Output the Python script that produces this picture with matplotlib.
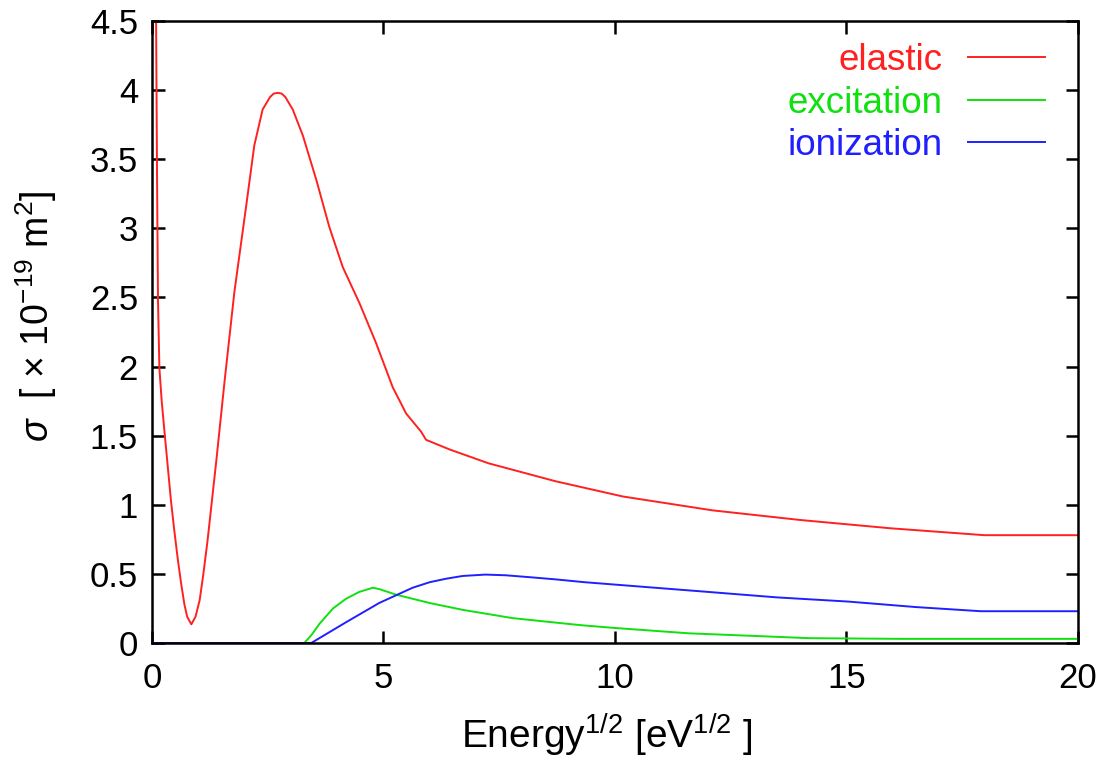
import numpy as np
import matplotlib
matplotlib.use("Agg")
import matplotlib.pyplot as plt

plt.rcParams['font.family'] = ['Liberation Sans', 'DejaVu Sans']
plt.rcParams['mathtext.fontset'] = 'custom'
plt.rcParams['mathtext.rm'] = 'Liberation Sans'
plt.rcParams['mathtext.it'] = 'Liberation Sans:italic'
plt.rcParams['mathtext.sf'] = 'Liberation Sans'

# cross sections vs sqrt(energy)
elastic_x = [0.08, 0.11, 0.13, 0.16, 0.21, 0.27, 0.34, 0.41, 0.48, 0.56, 0.63, 0.70,
             0.76, 0.85, 0.94, 1.03, 1.11, 1.20, 1.39, 1.57, 1.78, 2.05, 2.21, 2.39,
             2.55, 2.63, 2.72, 2.80, 2.88, 3.04, 3.26, 3.55, 3.83, 4.12, 4.48, 4.84,
             5.20, 5.49, 5.81, 5.92, 6.43, 7.27, 8.72, 10.17, 12.1, 14.0, 15.95,
             17.98, 20.0]
elastic_y = [5.0, 3.35, 2.48, 1.99, 1.75, 1.53, 1.28, 1.03, 0.82, 0.60, 0.43, 0.28,
             0.19, 0.135, 0.19, 0.31, 0.50, 0.74, 1.32, 1.90, 2.54, 3.20, 3.60, 3.86,
             3.95, 3.975, 3.98, 3.975, 3.95, 3.86, 3.67, 3.35, 3.01, 2.72, 2.46, 2.17,
             1.85, 1.66, 1.53, 1.47, 1.40, 1.30, 1.17, 1.06, 0.96, 0.89, 0.83,
             0.78, 0.78]

excit_x = [0.0, 3.29, 3.45, 3.62, 3.91, 4.19, 4.48, 4.77, 4.91, 5.27, 5.99, 6.71,
           7.79, 9.23, 9.95, 11.6, 13.1, 14.2, 16.2, 20.0]
excit_y = [0.0, 0.0, 0.06, 0.14, 0.25, 0.32, 0.37, 0.40, 0.39, 0.35, 0.29, 0.24,
           0.18, 0.13, 0.11, 0.07, 0.05, 0.035, 0.03, 0.03]

ion_x = [0.0, 3.44, 4.19, 4.91, 5.63, 6.0, 6.35, 6.71, 7.2, 7.64, 8.2, 8.73, 9.34,
         10.48, 12.0, 13.5, 15.03, 16.5, 17.9, 20.0]
ion_y = [0.0, 0.0, 0.15, 0.29, 0.40, 0.44, 0.465, 0.485, 0.495, 0.49, 0.475, 0.46,
         0.44, 0.41, 0.37, 0.33, 0.30, 0.26, 0.23, 0.23]

xticks = [0, 5, 10, 15, 20]
yticks = [0, 0.5, 1, 1.5, 2, 2.5, 3, 3.5, 4, 4.5]
ytick_labels = ['0', '0.5', '1', '1.5', '2', '2.5', '3', '3.5', '4', '4.5']

fig = plt.figure(figsize=(11.15, 7.58), dpi=100)
ax = fig.add_axes([0.1363, 0.1517, 0.8305, 0.8206])

ax.plot(elastic_x, elastic_y, color='#ff2020', lw=1.4, label='elastic')
ax.plot(excit_x, excit_y, color='#10e010', lw=1.4, label='excitation')
ax.plot(ion_x, ion_y, color='#2020ff', lw=1.4, label='ionization')

ax.set_xlim(0, 20)
ax.set_ylim(0, 4.5)
ax.set_xticks(xticks)
ax.set_yticks(yticks)
ax.set_yticklabels(ytick_labels)

for s in ax.spines.values():
    s.set_linewidth(1.8)
ax.tick_params(direction='in', length=9, width=1.8, top=True, right=True,
               labelsize=25)
ax.tick_params(axis='x', pad=14)
ax.tick_params(axis='y', pad=10)

ax.set_xlabel(r'Energy$^{1/2}$ [eV$^{1/2}$ ]', fontsize=28)
ax.set_ylabel(r'$\sigma$  [ $\times$ 10$^{-19}$ m$^2$]', fontsize=27)
ax.xaxis.set_label_coords(0.491, -0.110)
ax.yaxis.set_label_coords(-0.100, 0.526)

leg = ax.legend(loc='upper right', bbox_to_anchor=(0.9806, 0.988),
                borderaxespad=0, frameon=False, markerfirst=False,
                fontsize=26.5, handlelength=2.1, labelspacing=0.2,
                handletextpad=0.68, labelcolor='linecolor')

fig.savefig('out.png', dpi=100)
